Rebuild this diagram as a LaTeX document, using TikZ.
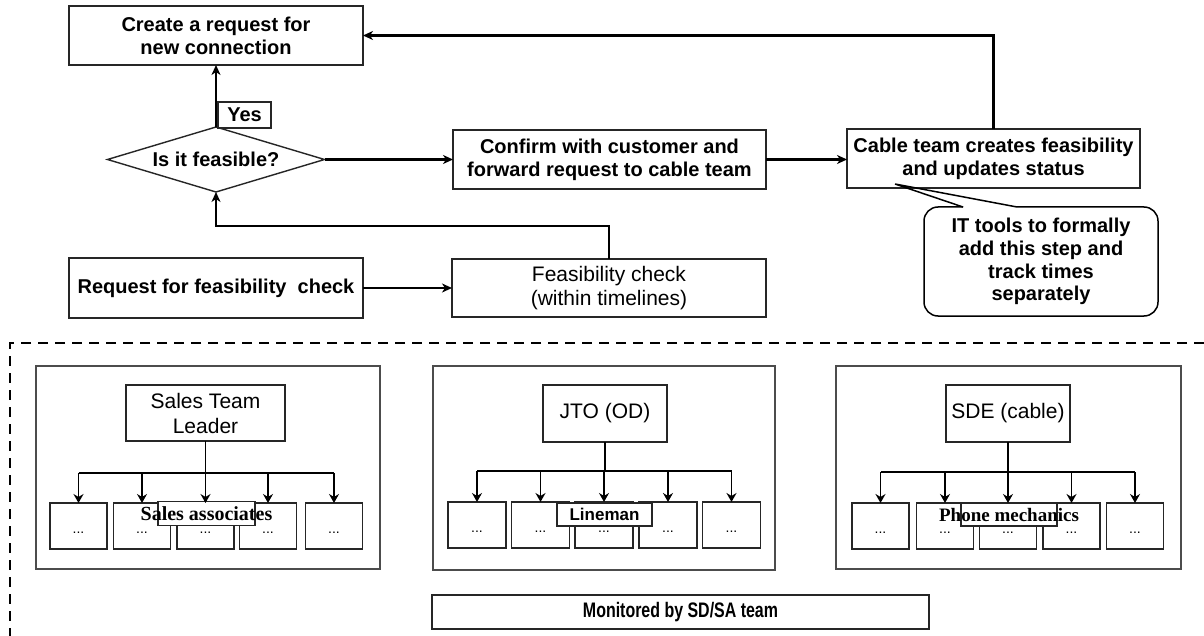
\documentclass[tikz,border=0pt]{standalone}
\usepackage{fontspec}
\setmainfont{Liberation Sans}
\newfontfamily\timesfam{Liberation Serif}
\usetikzlibrary{arrows.meta,calc,shapes.geometric}

\tikzset{
  every node/.style={inner sep=0pt, outer sep=0pt, align=center},
  flowbox/.style={draw=black!85, line width=1.8pt, fill=white, font=\fontsize{20}{23}\selectfont\bfseries},
  plainbox/.style={draw=black!85, line width=1.8pt, fill=white, font=\fontsize{21}{24}\selectfont},
  mainarrow/.style={line width=2.5pt, -{Stealth[length=10pt, width=9pt, inset=3pt]}},
  lightarrow/.style={line width=1.5pt, -{Stealth[length=10pt, width=9pt, inset=3pt]}},
  subarrow/.style={line width=1.5pt, -{Stealth[length=9pt, width=10pt, inset=3pt]}},
  groupframe/.style={draw=black!70, line width=1.6pt},
  leadbox/.style={draw=black!85, line width=1.6pt, fill=white, font=\fontsize{21}{25}\selectfont},
  memberbox/.style={draw=black!85, line width=1.6pt, fill=white, minimum width=57pt, minimum height=46pt, font=\fontsize{14}{16}\selectfont},
  rolelabel/.style={draw=black!85, line width=1.4pt, fill=white, minimum height=24pt},
  frameline/.style={line width=2.8pt, dash pattern=on 10pt off 7pt},
}
% dots of a member box, set a little below its middle
\newcommand{\memberdots}{\raisebox{-7pt}[0pt][0pt]{...}}

\begin{document}
\begin{tikzpicture}[x=1pt, y=-1pt]
  \fill[white] (0,0) rectangle (1204,636);
  \useasboundingbox (0,0) rectangle (1204,636);

  % ---------- upper process flow ----------
  \node[flowbox, minimum width=294pt, minimum height=59pt] (create) at (216,35.5)
    {Create a request for\\new connection};
  \node[shape=diamond, aspect=3.34, minimum width=217pt, minimum height=65pt,
        line width=1.4pt, draw=black!85, fill=white,
        font=\fontsize{20}{23}\selectfont\bfseries] (dia) at (216,159.5) {Is it feasible?};
  \node[flowbox, minimum width=313pt, minimum height=59pt] (confirm) at (609.5,159.5)
    {Confirm with customer and\\forward request to cable team};
  \node[flowbox, minimum width=293pt, minimum height=59pt] (cable) at (993.5,158.5)
    {Cable team creates feasibility\\and updates status};
  \node[flowbox, minimum width=294pt, minimum height=60pt] (req) at (216,288)
    {Request for feasibility\ \ check};
  \node[plainbox, minimum width=314pt, minimum height=58pt] (feas) at (609,288)
    {Feasibility check\\(within timelines)};

  % connectors
  \draw[mainarrow] (dia.north) -- (create.south);
  \node[flowbox, line width=1.6pt, minimum width=53pt, minimum height=26pt] (yes) at (244.5,115) {Yes};
  \draw[mainarrow] (dia.east) -- (confirm.west);
  \draw[mainarrow] (confirm.east) -- (confirm.east -| cable.west);
  \draw[mainarrow] (cable.north) |- (create.east);
  \draw[lightarrow] (req.east) -- (feas.west);
  \draw[lightarrow] (feas.north) -- ++(0,-33) -| (dia.south);

  % callout note
  \node[font=\fontsize{20}{22.7}\selectfont\bfseries, minimum width=234pt, minimum height=109pt]
    (note) at (1041,261.5) {IT tools to formally\\add this step and\\track times\\separately};
  \coordinate (tip) at (895,184);
  \coordinate (pa) at ($(note.north west)+(39,0)$);
  \coordinate (pb) at ($(note.north west)+(93,0)$);
  \draw[line width=1.5pt, rounded corners=14pt] (pb) -- (note.north east) -- (note.south east)
     -- (note.south west) -- (note.north west) -- (pa);
  \draw[line width=1.5pt] (pa) -- (tip) -- (pb);

  % ---------- monitored area ----------
  \draw[frameline] (1204,343) -- (10,343) -- (10,636);

  % sales group
  \node[groupframe, minimum width=344pt, minimum height=203pt] (g1) at (208,467.5) {};
  \node[leadbox, minimum width=159pt, minimum height=56pt] (l1) at (205.5,413) {Sales Team\\Leader};
  \foreach \i/\x in {1/78.5, 2/142, 3/205.5, 4/268, 5/334}
    \node[memberbox] (m1-\i) at (\x,526) {\memberdots};
  \node[rolelabel, minimum width=97pt, font=\timesfam\fontsize{20}{22}\selectfont\bfseries]
    (r1) at (206.5,513.5) {\makebox[0pt]{Sales associates}};
  \draw[line width=1.5pt] (l1.south) -- ++(0,32) coordinate (b1);
  \draw[line width=1.5pt] (b1 -| m1-1.north) -- (b1 -| m1-5.north);
  \foreach \i in {1,...,5}
    \draw[subarrow] (b1 -| m1-\i.north) -- (m1-\i.north);

  % JTO group
  \node[groupframe, minimum width=342pt, minimum height=204pt] (g2) at (604,468) {};
  \node[leadbox, minimum width=124pt, minimum height=57pt] (l2) at (605,413.5) {JTO (OD)};
  \foreach \i/\x in {1/477, 2/540.5, 3/604, 4/668, 5/731.5}
    \node[memberbox, minimum width=58pt] (m2-\i) at (\x,525) {\memberdots};
  \node[rolelabel, minimum width=95pt, minimum height=23pt, font=\fontsize{17}{20}\selectfont\bfseries]
    (r2) at (604.5,514.5) {Lineman};
  \draw[line width=1.5pt] (l2.south) -- ++(0,29) coordinate (b2);
  \draw[line width=1.5pt] (b2 -| m2-1.north) -- (b2 -| m2-5.north);
  \foreach \i in {1,...,5}
    \draw[subarrow] (b2 -| m2-\i.north) -- (m2-\i.north);

  % SDE group
  \node[groupframe, minimum width=345pt, minimum height=203pt] (g3) at (1008.5,467.5) {};
  \node[leadbox, minimum width=124pt, minimum height=57pt] (l3) at (1008,413.5) {SDE (cable)};
  \foreach \i/\x in {1/880.5, 2/945, 3/1008, 4/1071.5, 5/1135}
    \node[memberbox] (m3-\i) at (\x,526) {\memberdots};
  \node[rolelabel, minimum width=96pt, minimum height=23pt, font=\timesfam\fontsize{19}{22}\selectfont\bfseries]
    (r3) at (1009,514.5) {\makebox[0pt]{Phone mechanics}};
  \draw[line width=1.5pt] (l3.south) -- ++(0,30) coordinate (b3);
  \draw[line width=1.5pt] (b3 -| m3-1.north) -- (b3 -| m3-5.north);
  \foreach \i in {1,...,5}
    \draw[subarrow] (b3 -| m3-\i.north) -- (m3-\i.north);

  % monitoring banner
  \node[draw=black!85, line width=1.6pt, minimum width=497pt, minimum height=34pt,
        font=\fontsize{21}{24}\selectfont\bfseries] (mon) at (680.5,612)
    {\scalebox{0.76}[1]{Monitored by SD/SA team}};
\end{tikzpicture}
\end{document}
